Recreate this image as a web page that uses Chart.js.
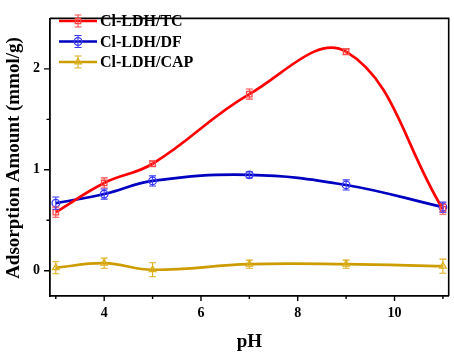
<!DOCTYPE html>
<html>
<head>
<meta charset="utf-8">
<script src="https://cdn.jsdelivr.net/npm/chart.js@4.4.0/dist/chart.umd.min.js"></script>
<style>
  html, body { margin: 0; padding: 0; background: #fff; }
  #wrap { width: 454px; height: 355px; }
</style>
</head>
<body>
<div id="wrap"><canvas id="chart"></canvas></div>
<script>
// pH values where samples were taken
const pH = [3, 4, 5, 7, 9, 11];

// adsorption amounts (mmol/g) and error bars
const tcValues = [0.58, 0.87, 1.06, 1.75, 2.17, 0.61];
const tcErrors = [0.05, 0.05, 0.03, 0.05, 0.03, 0.05];
const dfValues = [0.67, 0.76, 0.89, 0.95, 0.85, 0.63];
const dfErrors = [0.06, 0.05, 0.05, 0.03, 0.05, 0.05];
const capValues = [0.03, 0.075, 0.01, 0.065, 0.065, 0.045];
const capErrors = [0.06, 0.05, 0.07, 0.04, 0.04, 0.07];

const seriesNames = ['Cl-LDH/TC', 'Cl-LDH/DF', 'Cl-LDH/CAP'];

// tick labels
const xMajorTicks = [4, 6, 8, 10];
const xMinorTicks = [3, 5, 7, 9, 11];
const yMajorTicks = [0, 1, 2];
const yMinorTicks = [0.5, 1.5];

const yTitle = 'Adsorption Amount (mmol/g)';

const FONT = '"Liberation Serif", "Times New Roman", serif';

const makeSet = (label, values, errors, color, markColor, style) => ({
    label: label,
    data: pH.map((x, i) => ({ x: x, y: values[i] })),
    errors: errors,
    borderColor: color,
    borderWidth: 2.7,
    tension: 0.4,
    pointStyle: style,
    pointRadius: 3.8,
    pointBorderWidth: 1.3,
    pointBorderColor: markColor,
    pointBackgroundColor: 'rgba(255,255,255,0)',
    markColor: markColor
});

const datasets = [
    makeSet(seriesNames[0], tcValues, tcErrors, '#ff0000', '#ff4a4a', 'rect'),
    makeSet(seriesNames[1], dfValues, dfErrors, '#0000c0', '#3a3aff', 'circle'),
    makeSet(seriesNames[2], capValues, capErrors, '#cc9c00', '#ddb020', 'triangle')
];

const drawErrorBar = (ctx, x, yTop, yBot, color) => {
    ctx.save();
    ctx.strokeStyle = color;
    ctx.lineWidth = 1.1;
    ctx.beginPath();
    ctx.moveTo(x, yTop); ctx.lineTo(x, yBot);
    ctx.moveTo(x - 3.5, yTop); ctx.lineTo(x + 3.5, yTop);
    ctx.moveTo(x - 3.5, yBot); ctx.lineTo(x + 3.5, yBot);
    ctx.stroke();
    ctx.restore();
};

const errorBars = {
    id: 'errorBars',
    afterDatasetsDraw(chart) {
        const { ctx, scales: { x, y } } = chart;
        chart.data.datasets.forEach((ds) => {
            ds.data.forEach((p, i) => {
                const e = ds.errors[i];
                drawErrorBar(ctx, x.getPixelForValue(p.x), y.getPixelForValue(p.y + e), y.getPixelForValue(p.y - e), ds.markColor);
            });
        });
    }
};

const frameAndTicks = {
    id: 'frameAndTicks',
    afterDraw(chart) {
        const { ctx, chartArea: a, scales: { x, y } } = chart;
        ctx.save();
        ctx.strokeStyle = '#000';
        ctx.lineWidth = 1.6;
        ctx.beginPath();
        ctx.moveTo(a.left, a.top); ctx.lineTo(a.right, a.top); ctx.lineTo(a.right, a.bottom);
        ctx.stroke();
        ctx.lineWidth = 1.4;
        ctx.beginPath();
        xMajorTicks.forEach(v => { const px = x.getPixelForValue(v); ctx.moveTo(px, a.bottom); ctx.lineTo(px, a.bottom + 5); });
        xMinorTicks.forEach(v => { const px = x.getPixelForValue(v); ctx.moveTo(px, a.bottom); ctx.lineTo(px, a.bottom + 3); });
        yMajorTicks.forEach(v => { const py = y.getPixelForValue(v); ctx.moveTo(a.left, py); ctx.lineTo(a.left - 6, py); });
        yMinorTicks.forEach(v => { const py = y.getPixelForValue(v); ctx.moveTo(a.left, py); ctx.lineTo(a.left - 3.5, py); });
        ctx.stroke();

        // y axis title, sits a little below the plot centre as in the figure
        ctx.translate(14, 158);
        ctx.rotate(-Math.PI / 2);
        ctx.fillStyle = '#000';
        ctx.font = 'bold 19px ' + FONT;
        ctx.textAlign = 'center';
        ctx.textBaseline = 'middle';
        ctx.fillText(yTitle, 0, 0);
        ctx.restore();
    }
};

const legendBox = {
    id: 'legendBox',
    afterDraw(chart) {
        const { ctx } = chart;
        const rows = [21, 41.5, 62];
        chart.data.datasets.forEach((ds, i) => {
            const yy = rows[i];
            ctx.save();
            ctx.strokeStyle = ds.borderColor;
            ctx.lineWidth = 2.7;
            ctx.beginPath();
            ctx.moveTo(59, yy); ctx.lineTo(97, yy);
            ctx.stroke();
            drawErrorBar(ctx, 78, yy - 6, yy + 6, ds.markColor);
            ctx.strokeStyle = ds.markColor;
            ctx.fillStyle = 'rgba(255,255,255,0)';
            ctx.lineWidth = 1.3;
            Chart.helpers.drawPoint(ctx, { pointStyle: ds.pointStyle, radius: 3.8, borderWidth: 1.3 }, 78, yy);
            ctx.fillStyle = '#000';
            ctx.font = 'bold 16px ' + FONT;
            ctx.textBaseline = 'middle';
            ctx.textAlign = 'left';
            ctx.fillText(ds.label, 100, yy + 1);
            ctx.restore();
        });
    }
};

new Chart(document.getElementById('chart').getContext('2d'), {
    type: 'line',
    data: { datasets: datasets },
    options: {
        responsive: true,
        maintainAspectRatio: false,
        animation: false,
        devicePixelRatio: 1,
        layout: { padding: { top: 3, right: 3, left: 0, bottom: 0 } },
        plugins: { legend: { display: false }, tooltip: { enabled: false } },
        scales: {
            x: {
                type: 'linear',
                min: 2.88,
                max: 11.12,
                afterBuildTicks: s => { s.ticks = xMajorTicks.map(v => ({ value: v })); },
                afterFit: s => { s.height = 59; },
                grid: { display: false, drawTicks: false },
                border: { display: true, color: '#000', width: 1.8 },
                ticks: { color: '#000', padding: 9, maxRotation: 0, font: { family: FONT, size: 14, weight: 'bold' } },
                title: { display: true, text: 'pH', color: '#000', padding: { top: 0, bottom: 2 }, font: { family: FONT, size: 19, weight: 'bold' } }
            },
            y: {
                min: -0.25,
                max: 2.5,
                afterBuildTicks: s => { s.ticks = yMajorTicks.map(v => ({ value: v })); },
                afterFit: s => { s.width = 50; },
                grid: { display: false, drawTicks: false },
                border: { display: true, color: '#000', width: 1.8 },
                ticks: { color: '#000', padding: 10, font: { family: FONT, size: 14, weight: 'bold' } }
            }
        }
    },
    plugins: [errorBars, frameAndTicks, legendBox]
});
</script>
</body>
</html>
